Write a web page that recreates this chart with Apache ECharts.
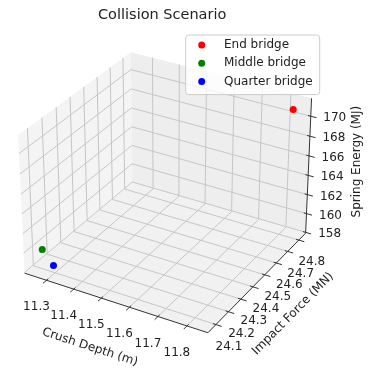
<!DOCTYPE html>
<html>
<head>
<meta charset="utf-8">
<script src="https://cdn.jsdelivr.net/npm/echarts@6/dist/echarts.min.js"></script>
<style>
  html, body { margin: 0; padding: 0; background: #fff; }
  #chart { width: 368px; height: 372px; }
</style>
</head>
<body>
<div id="chart"></div>
<script>
// data
const seriesNames = ['End bridge', 'Middle bridge', 'Quarter bridge'];
const seriesColors = ['#ff0000', '#008000', '#0000ff'];
const crushDepth = [11.83, 11.26, 11.30];     // m
const impactForce = [24.81, 24.09, 24.09];    // MN
const springEnergy = [170.9, 160.1, 158.8];   // MJ

const xTicks = [11.3, 11.4, 11.5, 11.6, 11.7, 11.8];
const yTicks = [24.1, 24.2, 24.3, 24.4, 24.5, 24.6, 24.7, 24.8];
const zTicks = [158, 160, 162, 164, 166, 168, 170];

// camera like the default 3d view (elev 30, azim -60)
const ELEV = 30 * Math.PI / 180;
const AZIM = -60 * Math.PI / 180;
const DIST = 10;
const HALF = [0.5715, 0.5715, 0.4286];
const SCALE = 1838, CX = 167.6, CY = 186;
const W = 368, H = 372;

function limits(vals) {
    const lo = Math.min(...vals), hi = Math.max(...vals);
    const m = (hi - lo) * 0.05;
    const v0 = lo - m, v1 = hi + m;
    const pad = (v1 - v0) / 48;
    return [v0 - pad, v1 + pad];
}
const xLim = limits(crushDepth);
const yLim = limits(impactForce);
const zLim = limits(springEnergy);

const U = [-Math.sin(AZIM), Math.cos(AZIM), 0];
const V = [-Math.sin(ELEV) * Math.cos(AZIM), -Math.sin(ELEV) * Math.sin(AZIM), Math.cos(ELEV)];
const Wv = [Math.cos(ELEV) * Math.cos(AZIM), Math.cos(ELEV) * Math.sin(AZIM), Math.sin(ELEV)];

const norm = (v, lim, h) => ((v - lim[0]) / (lim[1] - lim[0]) * 2 - 1) * h;

function project(x, y, z) {
    const d = [norm(x, xLim, HALF[0]), norm(y, yLim, HALF[1]), norm(z, zLim, HALF[2])];
    const dot = a => a[0] * d[0] + a[1] * d[1] + a[2] * d[2];
    const den = DIST - dot(Wv);
    return [dot(U) / den, dot(V) / den];
}

const FONT = '12px "DejaVu Sans"';
const TEXT = '#222';
const GRID = '#c6c6c6';
const AXIS = '#333';

function renderBox(params, api) {
    const P = (x, y, z) => api.coord(project(x, y, z));
    const [x0, x1] = xLim, [y0, y1] = yLim, [z0, z1] = zLim;
    const xr = x1 - x0, yr = y1 - y0;
    const children = [];
    const poly = (pts, fill) => children.push({ type: 'polygon', shape: { points: pts }, style: { fill: fill } });
    const line = (pts, stroke) => children.push({ type: 'polyline', shape: { points: pts }, style: { stroke: stroke, lineWidth: 1, fill: null } });
    const text = (pt, dx, dy, str, rot) => children.push({
        type: 'text', x: pt[0] + dx, y: pt[1] + dy, rotation: rot || 0,
        style: { text: str, font: FONT, fill: TEXT, align: 'center', verticalAlign: 'middle' }
    });

    // panes
    poly([P(x0, y0, z0), P(x0, y1, z0), P(x0, y1, z1), P(x0, y0, z1)], '#f4f4f4');
    poly([P(x0, y1, z0), P(x1, y1, z0), P(x1, y1, z1), P(x0, y1, z1)], '#eeeeee');
    poly([P(x0, y0, z0), P(x1, y0, z0), P(x1, y1, z0), P(x0, y1, z0)], '#f1f1f1');

    // grid lines
    xTicks.forEach(t => line([P(t, y0, z0), P(t, y1, z0), P(t, y1, z1)], GRID));
    yTicks.forEach(t => line([P(x1, t, z0), P(x0, t, z0), P(x0, t, z1)], GRID));
    zTicks.forEach(t => line([P(x0, y0, t), P(x0, y1, t), P(x1, y1, t)], GRID));

    // axis lines
    line([P(x0, y0, z0), P(x1, y0, z0)], AXIS);
    line([P(x1, y0, z0), P(x1, y1, z0)], AXIS);
    line([P(x1, y1, z0), P(x1, y1, z1)], AXIS);

    // ticks and tick labels
    xTicks.forEach(t => {
        line([P(t, y0 + 0.015 * yr, z0), P(t, y0 - 0.03 * yr, z0)], AXIS);
        text(P(t, y0, z0), -10, 27, t.toFixed(1));
    });
    yTicks.forEach(t => {
        line([P(x1 - 0.015 * xr, t, z0), P(x1 + 0.03 * xr, t, z0)], AXIS);
        text(P(x1, t, z0), 13, 22, t.toFixed(1));
    });
    zTicks.forEach(t => {
        line([P(x1 - 0.015 * xr, y1, t), P(x1 + 0.03 * xr, y1, t)], AXIS);
        text(P(x1, y1, t), 24, 2, String(t));
    });

    // axis titles
    const angle = (a, b) => Math.atan2(-(b[1] - a[1]), b[0] - a[0]);
    const xm = (x0 + x1) / 2, ym = (y0 + y1) / 2, zm = (z0 + z1) / 2;
    text(P(xm, y0, z0), -24, 45, 'Crush Depth (m)', angle(P(x0, y0, z0), P(x1, y0, z0)));
    text(P(x1, ym, z0), 34, 33, 'Impact Force (MN)', angle(P(x1, y0, z0), P(x1, y1, z0)));
    text(P(x1, y1, zm), 48.5, -5.5, 'Spring Energy (MJ)', Math.PI / 2);

    return { type: 'group', children: children };
}

const chart = echarts.init(document.getElementById('chart'));

const option = {
    animation: false,
    title: {
        text: 'Collision Scenario',
        left: 98,
        top: 8,
        padding: 0,
        textStyle: { fontSize: 14.5, fontWeight: 'normal', fontFamily: 'DejaVu Sans', color: TEXT }
    },
    legend: {
        data: seriesNames,
        orient: 'vertical',
        left: 185.7,
        top: 35,
        icon: 'circle',
        itemWidth: 7,
        itemHeight: 7,
        itemGap: 4.3,
        padding: [3, 7, 6, 12.5],
        borderColor: '#cccccc',
        borderWidth: 1,
        borderRadius: 3,
        backgroundColor: 'rgba(255,255,255,0.8)',
        selectedMode: false,
        textStyle: { fontSize: 12, fontFamily: 'DejaVu Sans', color: TEXT, lineHeight: 14, padding: [0, 0, 0, 13.8] }
    },
    grid: { left: 0, right: 0, top: 0, bottom: 0 },
    xAxis: { type: 'value', min: -CX / SCALE, max: (W - CX) / SCALE, show: false },
    yAxis: { type: 'value', min: (CY - H) / SCALE, max: CY / SCALE, show: false },
    series: [
        {
            type: 'custom',
            silent: true,
            z: 1,
            data: [[0, 0]],
            renderItem: renderBox
        },
        ...seriesNames.map((name, i) => ({
            type: 'scatter',
            name: name,
            z: 3,
            silent: true,
            symbolSize: 7,
            itemStyle: { color: seriesColors[i], opacity: 1 },
            data: [project(crushDepth[i], impactForce[i], springEnergy[i])]
        }))
    ]
};

chart.setOption(option);
</script>
</body>
</html>
